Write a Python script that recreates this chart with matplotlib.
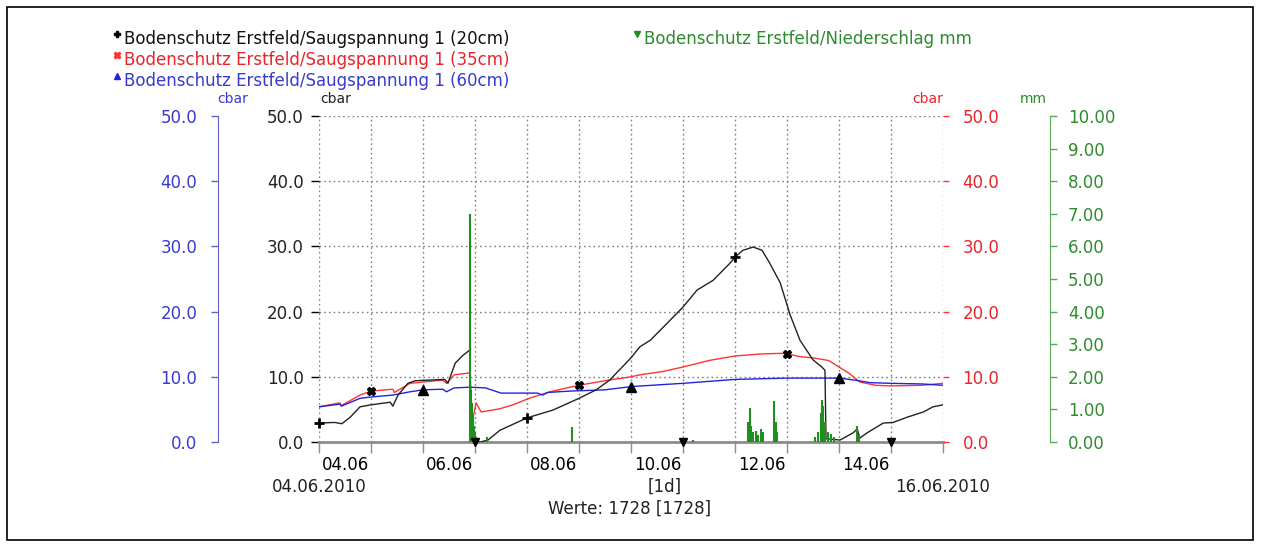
import numpy as np
import matplotlib
matplotlib.use("Agg")
import matplotlib.pyplot as plt
from matplotlib.lines import Line2D
from matplotlib.patches import Rectangle
from matplotlib.transforms import ScaledTranslation

plt.rcParams['font.family'] = ['DejaVu Sans']

# time axis: days since 04.06.2010 00:00
day_ticks = list(range(0, 13))
day_labels = ['04.06', '', '06.06', '', '08.06', '', '10.06', '', '12.06', '', '14.06', '', '']

# Saugspannung 20cm (black)
t20 = [0.0, 0.3, 0.44, 0.6, 0.79, 1.0, 1.37, 1.42, 1.52, 1.71, 1.85, 2.42, 2.48, 2.62, 2.77,
       2.9, 2.93, 3.0, 3.1, 3.25, 3.48, 4.0, 4.5, 5.0, 5.33, 5.59, 6.0, 6.17, 6.37, 6.62,
       7.0, 7.27, 7.58, 7.9, 8.02, 8.15, 8.35, 8.52, 8.67, 8.87, 9.06, 9.25, 9.5, 9.67,
       9.73, 9.75, 10.02, 10.27, 10.35, 10.4, 10.54, 10.85, 11.04, 11.31, 11.62, 11.81, 12.0]
v20 = [2.9, 3.0, 2.8, 3.8, 5.4, 5.7, 6.1, 5.5, 7.2, 9.0, 9.4, 9.6, 9.0, 12.1, 13.3,
       14.1, 1.0, 0.2, 0.0, 0.3, 1.8, 3.7, 4.9, 6.7, 8.0, 9.5, 12.9, 14.6, 15.6, 17.6,
       20.7, 23.3, 24.8, 27.4, 28.5, 29.4, 29.9, 29.4, 27.4, 24.4, 19.5, 15.6, 12.6, 11.5,
       11.0, 0.5, 0.3, 1.4, 2.0, 0.6, 1.4, 2.9, 3.0, 3.8, 4.6, 5.4, 5.7]

# Saugspannung 35cm (red)
t35 = [0.0, 0.4, 0.43, 0.79, 1.0, 1.42, 1.45, 1.75, 2.0, 2.38, 2.45, 2.6, 2.9, 2.95, 3.02,
       3.12, 3.48, 3.73, 4.04, 4.44, 4.77, 5.0, 5.5, 6.0, 6.17, 6.6, 7.0, 7.5, 8.0, 8.5,
       8.9, 9.0, 9.25, 9.5, 9.8, 10.0, 10.2, 10.4, 10.7, 11.0, 11.6, 12.0]
v35 = [5.4, 6.0, 5.6, 7.2, 7.8, 8.1, 7.6, 9.0, 9.2, 9.5, 9.0, 10.3, 10.6, 3.2, 6.0,
       4.6, 5.1, 5.7, 6.7, 7.7, 8.3, 8.7, 9.4, 10.0, 10.3, 10.8, 11.5, 12.5, 13.2, 13.5,
       13.6, 13.5, 13.1, 12.9, 12.5, 11.5, 10.5, 9.2, 8.7, 8.6, 8.7, 9.0]

# Saugspannung 60cm (blue)
t60 = [0.0, 0.4, 0.43, 0.79, 1.0, 1.42, 1.75, 2.0, 2.38, 2.45, 2.6, 2.9, 3.2, 3.5, 4.2,
       4.3, 4.4, 4.8, 5.5, 6.0, 7.0, 8.0, 9.0, 10.0, 10.3, 10.6, 11.0, 11.6, 12.0]
v60 = [5.4, 5.8, 5.5, 6.7, 6.9, 7.2, 7.7, 8.0, 8.1, 7.7, 8.3, 8.4, 8.3, 7.5, 7.5,
       7.2, 7.6, 7.8, 8.0, 8.5, 9.0, 9.6, 9.8, 9.8, 9.5, 9.1, 9.0, 8.9, 8.7]

# Niederschlag mm (green)
rain_t = [2.9, 2.92, 2.94, 2.96, 2.98, 3.0, 3.02, 3.23, 4.87, 7.19, 8.25, 8.28, 8.31, 8.35,
          8.4, 8.45, 8.5, 8.53, 8.75, 8.78, 8.8, 9.54, 9.6, 9.65, 9.68, 9.7, 9.73, 9.78,
          9.85, 9.9, 10.35, 10.38]
rain_mm = [7.0, 1.6, 1.2, 0.8, 0.5, 0.3, 0.15, 0.15, 0.45, 0.05, 0.6, 1.05, 0.5, 0.3,
           0.35, 0.2, 0.4, 0.3, 1.25, 0.6, 0.3, 0.15, 0.3, 0.9, 1.3, 1.1, 0.6, 0.3,
           0.25, 0.15, 0.5, 0.2]

# marker positions (every 4 days, shifted per series)
mark20 = [0, 4, 8]
mark35 = [1, 5, 9]
mark60 = [2, 6, 10]
mark_rain = [3, 7, 11]
mark_rain_val = [0.0, 0.0, 0.0]

cbar_ticks = [0, 10, 20, 30, 40, 50]
mm_ticks = list(range(0, 11))

C_BLACK = '#222222'
C_RED = '#ff3333'
C_RED_TXT = '#e8242c'
C_BLUE = '#2222dd'
C_BLUE_TXT = '#3a3ad0'
C_GREEN = '#1f8f1f'
C_GREEN_TXT = '#2e8b2e'
GRID = '#808080'

W, H = 1261, 547
fig = plt.figure(figsize=(W / 100, H / 100), dpi=100)


def fx(px):
    return px / W


def fy(py):
    return 1 - py / H


x0, x1, ytop, ybot = 319, 943, 116, 442
ax = fig.add_axes([fx(x0), fy(ybot), fx(x1) - fx(x0), fy(ytop) - fy(ybot)])
ax.set_xlim(0, 12)
ax.set_ylim(0, 50)

# grid
ax.set_xticks(day_ticks)
ax.set_xticklabels(day_labels)
ax.set_yticks(cbar_ticks)
ax.set_yticklabels([f'{v:.1f}' for v in cbar_ticks])
ax.grid(True, ls=(0, (1.2, 2.2)), color=GRID, lw=1.0)
for s in ['left', 'right', 'top']:
    ax.spines[s].set_visible(False)
ax.spines['bottom'].set_color('#8c8c8c')
ax.spines['bottom'].set_linewidth(2)
ax.tick_params(axis='x', direction='out', length=8, width=1, color='#8c8c8c',
               labelsize=12, pad=2)
ax.tick_params(axis='y', direction='out', length=6, width=1, color='black',
               labelsize=12, pad=5, labelcolor='#222222')
off = ScaledTranslation(3 / 100, 0, fig.dpi_scale_trans)
for lab in ax.get_xticklabels():
    lab.set_horizontalalignment('left')
    lab.set_transform(lab.get_transform() + off)

# series
ax.plot(t35, v35, color=C_RED, lw=1.0, zorder=3)
ax.plot(t60, v60, color=C_BLUE, lw=1.0, zorder=3)
ax.plot(t20, v20, color=C_BLACK, lw=1.0, zorder=4)
ax.plot(mark20, np.interp(mark20, t20, v20), ls='none', marker='+', ms=7, mew=2,
        color='black', zorder=6, clip_on=False)
ax.plot(mark35, np.interp(mark35, t35, v35), ls='none', marker='X', ms=6, color='black',
        zorder=6, clip_on=False)
ax.plot(mark60, np.interp(mark60, t60, v60), ls='none', marker='^', ms=7, color='black',
        zorder=6, clip_on=False)

# red right axis
ax_red = ax.twinx()
ax_red.set_ylim(0, 50)
ax_red.set_yticks(cbar_ticks)
ax_red.set_yticklabels([f'{v:.1f}' for v in cbar_ticks])
for s in ax_red.spines.values():
    s.set_visible(False)
ax_red.tick_params(axis='y', direction='out', length=4, width=1, color=C_RED,
                   labelcolor=C_RED_TXT, labelsize=12, pad=10)

# blue left outer axis
ax_blue = ax.twinx()
ax_blue.set_ylim(0, 50)
ax_blue.yaxis.set_ticks_position('left')
ax_blue.yaxis.set_label_position('left')
for s in ax_blue.spines.values():
    s.set_visible(False)
ax_blue.spines['left'].set_visible(True)
ax_blue.spines['left'].set_position(('axes', (218 - x0) / (x1 - x0)))
ax_blue.spines['left'].set_color('#6060d0')
ax_blue.set_yticks(cbar_ticks)
ax_blue.set_yticklabels([f'{v:.1f}' for v in cbar_ticks])
ax_blue.tick_params(axis='y', direction='out', length=5, width=1, color='#6060d0',
                    labelcolor=C_BLUE_TXT, labelsize=12, pad=10)

# green precipitation axis
ax_green = ax.twinx()
ax_green.set_ylim(0, 10)
for s in ax_green.spines.values():
    s.set_visible(False)
ax_green.spines['right'].set_visible(True)
ax_green.spines['right'].set_position(('axes', (1050 - x0) / (x1 - x0)))
ax_green.spines['right'].set_color('#5aaa5a')
ax_green.set_yticks(mm_ticks)
ax_green.set_yticklabels([f'{v:.2f}' for v in mm_ticks])
ax_green.tick_params(axis='y', direction='out', length=5, width=1, color='#5aaa5a',
                     labelcolor=C_GREEN_TXT, labelsize=12, pad=8)
ax_green.vlines(rain_t, 0, rain_mm, color=C_GREEN, lw=1.5, zorder=2)
ax_green.plot(mark_rain, mark_rain_val, ls='none', marker='v', ms=6, color='black',
              zorder=6, clip_on=False)

# unit labels
fig.text(fx(217), fy(99), 'cbar', color=C_BLUE_TXT, fontsize=10, ha='left', va='center')
fig.text(fx(320), fy(99), 'cbar', color='#222222', fontsize=10, ha='left', va='center')
fig.text(fx(943), fy(99), 'cbar', color=C_RED_TXT, fontsize=10, ha='right', va='center')
fig.text(fx(1047), fy(99), 'mm', color=C_GREEN_TXT, fontsize=10, ha='right', va='center')

# bottom texts
fig.text(fx(319), fy(487), '04.06.2010', fontsize=12, ha='center', va='center', color='#222222')
fig.text(fx(943), fy(487), '16.06.2010', fontsize=12, ha='center', va='center', color='#222222')
fig.text(fx(665), fy(487), '[1d]', fontsize=12, ha='center', va='center', color='#222222')
fig.text(fx(630), fy(509), 'Werte: 1728 [1728]', fontsize=12, ha='center', va='center', color='#222222')

# legend
legend_items = [
    ('Bodenschutz Erstfeld/Saugspannung 1 (20cm)', 'P', 'black', '#111111', 117, 39),
    ('Bodenschutz Erstfeld/Saugspannung 1 (35cm)', 'X', C_RED, C_RED_TXT, 117, 60),
    ('Bodenschutz Erstfeld/Saugspannung 1 (60cm)', '^', C_BLUE, C_BLUE_TXT, 117, 81),
    ('Bodenschutz Erstfeld/Niederschlag mm', 'v', C_GREEN, C_GREEN_TXT, 637, 39),
]
for label, mk, mcol, tcol, mx, my in legend_items:
    fig.add_artist(Line2D([fx(mx)], [fy(my - 5)], marker=mk, ms=5, color=mcol,
                          ls='none', transform=fig.transFigure))
    fig.text(fx(mx + 7), fy(my), label, color=tcol, fontsize=12, ha='left', va='center')

# frame around the figure
fig.patches.append(Rectangle((fx(7), fy(540)), fx(1253) - fx(7), fy(7) - fy(540),
                             transform=fig.transFigure, fill=False, ec='black', lw=1.2))

fig.savefig('out.png', dpi=100)
